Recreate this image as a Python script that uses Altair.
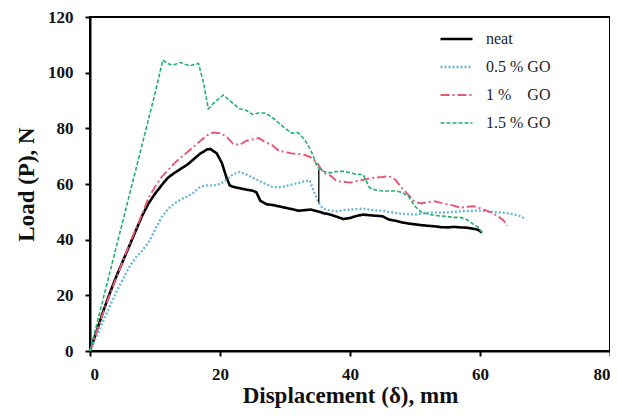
import altair as alt
import pandas as pd

SERIES = ["neat", "0.5 % GO", "1 %\u00a0\u00a0\u00a0 GO", "1.5 % GO"]
COLORS = ["#000000", "#62b6dc", "#e45a74", "#22b070"]
DASHES = [[1, 0], [2, 2], [9, 3, 2, 3], [4, 2]]
WIDTHS = [2.6, 1.6, 1.8, 1.8]

neat_x = [0, 1, 2, 3, 4, 5, 6, 7, 8, 9, 10, 11, 12, 13, 14, 15, 16, 17, 18,
          18.5, 19.5, 20.3, 21, 21.5, 22,
          23, 24, 25, 25.6, 26.2, 27.2, 28,
          29, 30, 31, 32, 33, 34, 35, 36, 37, 38, 39, 40, 41, 42, 43, 44, 45,
          46, 47, 48, 49, 50, 51, 52, 53, 54, 55, 56, 57, 58, 59,
          59.7, 60.3]
neat_y = [0, 7, 14, 20.5, 26.5, 32, 37.5, 43, 48.5, 53, 56.5, 59.5, 62.3, 64, 65.5, 67, 69, 71, 72.4,
          72.6, 71, 67.5, 62.3, 59.5, 59,
          58.5, 58, 57.6, 57, 54, 52.7, 52.5,
          52, 51.5, 51, 50.4, 50.6, 50.8, 50.2, 49.5, 49, 48.2, 47.4, 47.8, 48.5, 49, 48.8, 48.6, 48.4,
          47.2, 46.8, 46.2, 45.8, 45.5, 45.2, 45, 44.8, 44.5, 44.4, 44.6, 44.4, 44.3, 43.9,
          43.6, 42.5]

go05_x = [0, 1, 2, 3, 4, 5, 6, 7, 8, 9, 10, 11, 12, 13, 14, 15, 16, 17, 18, 19, 20,
          21, 22, 23, 24, 25, 26, 27, 28, 29, 30, 31, 32, 33, 33.8, 34.4, 35.4,
          36, 37, 38, 39, 40, 41, 42, 43, 44, 45, 46, 47, 48, 49, 50, 51, 52, 53,
          54, 55, 56, 57, 58, 59, 60, 61, 62, 63, 64, 65, 66, 67]
go05_y = [0, 5.3, 10.6, 15.8, 21, 25.5, 30, 33.5, 36, 39, 43.5, 48, 51, 53, 54.5, 55.5, 57, 59, 59.5, 59.5, 60,
          61.5, 63.5, 64.3, 63.5, 62.3, 61.2, 60, 59, 58.8, 59.2, 59.8, 60.3, 61, 61.3, 57.5, 52.3,
          51, 50.4, 50.2, 50.6, 50.8, 51, 51.2, 50.8, 50.5, 50.4, 50, 49.6, 49.3, 49.2, 49, 49.4, 49.6, 49.8,
          49.7, 49.8, 50, 50.2, 50.3, 50.4, 50.4, 50.2, 50, 49.8, 49.6, 49.2, 48.6, 47.5]

go1_x = [0, 1, 2, 3, 4, 5, 6, 7, 8, 9, 10, 11, 12, 13, 14, 15, 16, 17, 18, 19,
         20, 21, 22, 23, 24, 25, 26, 27, 28, 29, 30, 31, 32, 33, 34, 35, 35.5,
         36, 37, 38, 39, 40, 41, 42, 43, 44, 45, 46, 47, 48, 49, 50, 51, 52, 53,
         54, 55, 56, 57, 58, 59, 60, 61, 62, 63, 63.6, 64.2]
go1_y = [0, 6.8, 13.5, 20, 26, 32, 38, 43.5, 49, 55, 59, 62.5, 65, 67.5, 69.5, 71.5, 73.5, 75.5, 77.5, 78.5,
         78.2, 77, 74.5, 74, 75.5, 76, 76.5, 75, 74, 72, 71.5, 71, 70.8, 70.5, 69.5, 67.5, 65.5,
         64, 63, 61, 60.8, 60.5, 61, 61.5, 62, 62.3, 62.5, 62.8, 61.5, 58.5, 56, 53.5, 53, 53.5, 53.8,
         53.2, 52.7, 52.2, 51.5, 51.8, 52, 51.3, 50.4, 49.5, 48, 47, 45]

go15_x = [0, 2, 4, 6, 8, 10, 11.2, 12, 12.8, 13.8, 14.6, 15.4, 16.7, 17.5, 18.2, 19, 20, 20.5,
          21.5, 23, 24, 25, 26, 27, 28, 29, 30, 31, 32, 33, 34, 35, 36, 37, 38, 39, 40, 41, 42,
          43, 44, 45, 46, 47, 48, 49, 50, 51, 52, 53, 54, 55, 56, 57, 58, 59, 59.7, 60.3]
go15_y = [0, 18.5, 37, 55.5, 74, 92.5, 104.5, 103.2, 102.7, 103.7, 103, 102.5, 103.3, 96, 87, 89, 91, 92,
          90, 87, 86.5, 85, 85.5, 85.5, 84, 82, 80, 78.3, 78.5, 76, 72, 66, 64.5, 64, 64.5, 64.6, 64, 63.5, 63.4,
          58.7, 57.8, 57.5, 57.5, 57.5, 57, 55.5, 52, 49.8, 49.2, 48.7, 48.5, 48.3, 48, 48, 47.2, 45.5, 44.5, 42.6]

# short vertical black stroke seen near 35 mm
mark_x = [35.2]
mark_y1 = [53.3]
mark_y2 = [65.2]

rows = []
for name, xs, ys in [(SERIES[0], neat_x, neat_y), (SERIES[1], go05_x, go05_y),
                     (SERIES[2], go1_x, go1_y), (SERIES[3], go15_x, go15_y)]:
    for i, (a, b) in enumerate(zip(xs, ys)):
        rows.append({"series": name, "d": a, "P": b, "order": i})
df = pd.DataFrame(rows)
df_mark = pd.DataFrame({"d": mark_x, "y1": mark_y1, "y2": mark_y2})

FONT = "Liberation Serif"

x_enc = alt.X("d:Q", scale=alt.Scale(domain=[0, 80], nice=False),
              axis=alt.Axis(values=[0, 20, 40, 60, 80], title="Displacement (δ), mm",
                            titlePadding=2, labelPadding=10))
y_enc = alt.Y("P:Q", scale=alt.Scale(domain=[0, 120], nice=False),
              axis=alt.Axis(values=[0, 20, 40, 60, 80, 100, 120], title="Load (P), N",
                            titlePadding=9, labelPadding=12))

leg = alt.Legend(title=None, orient="none", legendX=349, legendY=9,
                 symbolType="stroke", symbolSize=1024, clipHeight=26, rowPadding=2,
                 labelFont=FONT, labelFontSize=16, labelColor="#222222",
                 labelOffset=12, symbolStrokeWidth=2)

lines = alt.Chart(df).mark_line(interpolate="linear").encode(
    x=x_enc,
    y=y_enc,
    order="order:Q",
    color=alt.Color("series:N", scale=alt.Scale(domain=SERIES, range=COLORS), legend=leg),
    strokeDash=alt.StrokeDash("series:N", scale=alt.Scale(domain=SERIES, range=DASHES), legend=leg),
    strokeWidth=alt.StrokeWidth("series:N", scale=alt.Scale(domain=SERIES, range=WIDTHS), legend=None),
)

rule = alt.Chart(df_mark).mark_rule(color="black", strokeWidth=1.3).encode(
    x="d:Q", y="y1:Q", y2="y2:Q"
)

chart = (lines + rule).properties(
    width=520, height=334,
    autosize=alt.AutoSizeParams(type="none"),
    padding={"left": 82, "top": 9, "right": 0, "bottom": 57},
).configure_view(
    stroke="black", strokeWidth=2
).configure_axis(
    grid=False,
    domainColor="black", domainWidth=2,
    tickColor="black", tickWidth=2, tickSize=5,
    labelFont=FONT, labelFontSize=17, labelFontWeight="bold", labelColor="#111111",
    titleFont=FONT, titleFontSize=23, titleFontWeight="bold", titleColor="#111111",
)

chart.save("out.html", embed_options={"renderer": "svg", "actions": False})
